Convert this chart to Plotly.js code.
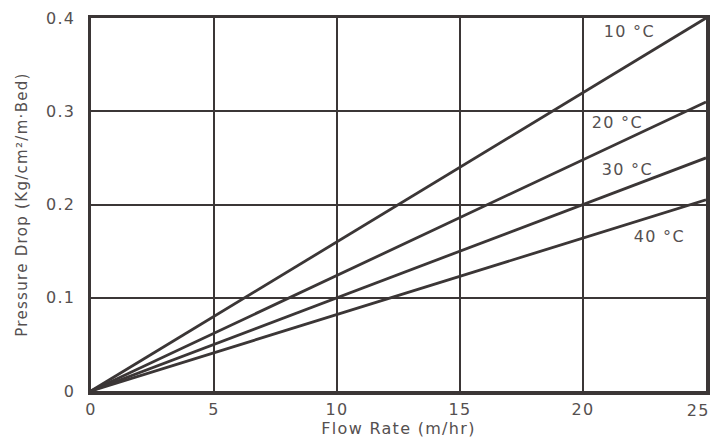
<!DOCTYPE html>
<html><head><meta charset="utf-8">
<script src="https://cdn.plot.ly/plotly-3.0.1.min.js"></script>
<style>
html,body{margin:0;padding:0;background:#fff}
#chart text{letter-spacing:1.3px}
</style>
</head><body><div id="chart" style="width:713px;height:439px"></div>
<script>
const flowRate = [0, 25];
const seriesNames = ['10 °C', '20 °C', '30 °C', '40 °C'];
const drop10 = [0, 0.40];
const drop20 = [0, 0.31];
const drop30 = [0, 0.25];
const drop40 = [0, 0.205];
const labelX = [21.9, 21.4, 21.8, 23.1];
const labelY = [0.385, 0.288, 0.238, 0.166];
const xTicks = [0, 5, 10, 15, 20, 25];
const xTickText = ['0', '5', '10', '15', '20', '25'];
const yTicks = [0, 0.1, 0.2, 0.3, 0.4];
const yTickText = ['0', '0.1', '0.2', '0.3', '0.4'];

const lineColor = '#3b3636';
const textColor = '#555050';
const fontFam = 'DejaVu Sans, Verdana, sans-serif';
const allDrops = [drop10, drop20, drop30, drop40];

const traces = allDrops.map((d, i) => ({
  x: flowRate, y: d, type: 'scatter', mode: 'lines', name: seriesNames[i],
  line: {color: lineColor, width: 2.8}, hoverinfo: 'skip'
}));

const annotations = seriesNames.map((n, i) => ({
  x: labelX[i], y: labelY[i], xref: 'x', yref: 'y', text: n, showarrow: false,
  font: {family: fontFam, size: 16, color: textColor}
}));
// last x tick label drawn right-aligned so it stays inside the page
const lastIdx = xTicks.length - 1;
annotations.push({
  x: xTicks[lastIdx], y: 0, xref: 'x', yref: 'y', text: xTickText[lastIdx],
  showarrow: false, xanchor: 'right', yanchor: 'top', xshift: 4, yshift: -8,
  font: {family: fontFam, size: 16, color: textColor}
});

const layout = {
  width: 713, height: 439,
  margin: {l: 91, r: 7, t: 18, b: 48},
  paper_bgcolor: '#fff', plot_bgcolor: '#fff',
  showlegend: false,
  font: {family: fontFam, color: textColor, size: 16},
  xaxis: {
    range: [0, 25], tickvals: xTicks.slice(0, lastIdx), ticktext: xTickText.slice(0, lastIdx),
    showgrid: true, gridcolor: lineColor, gridwidth: 2,
    showline: true, linecolor: lineColor, linewidth: 3.5, mirror: true,
    zeroline: false, ticks: '', ticklabelstandoff: 1,
    tickfont: {family: fontFam, size: 16, color: textColor},
    title: {text: 'Flow Rate (m/hr)', standoff: 0, font: {family: fontFam, size: 16, color: textColor}},
    automargin: false
  },
  yaxis: {
    range: [0, 0.4], tickvals: yTicks, ticktext: yTickText,
    showgrid: true, gridcolor: lineColor, gridwidth: 2,
    showline: true, linecolor: lineColor, linewidth: 3.5, mirror: true,
    zeroline: false, ticks: '', ticklabelstandoff: 9,
    tickfont: {family: fontFam, size: 16, color: textColor},
    title: {text: 'Pressure Drop (Kg/cm²/m·Bed)', standoff: 19, font: {family: fontFam, size: 15, color: textColor}},
    automargin: false
  },
  annotations: annotations
};

Plotly.newPlot('chart', traces, layout, {displayModeBar: false, staticPlot: true});
</script></body></html>
